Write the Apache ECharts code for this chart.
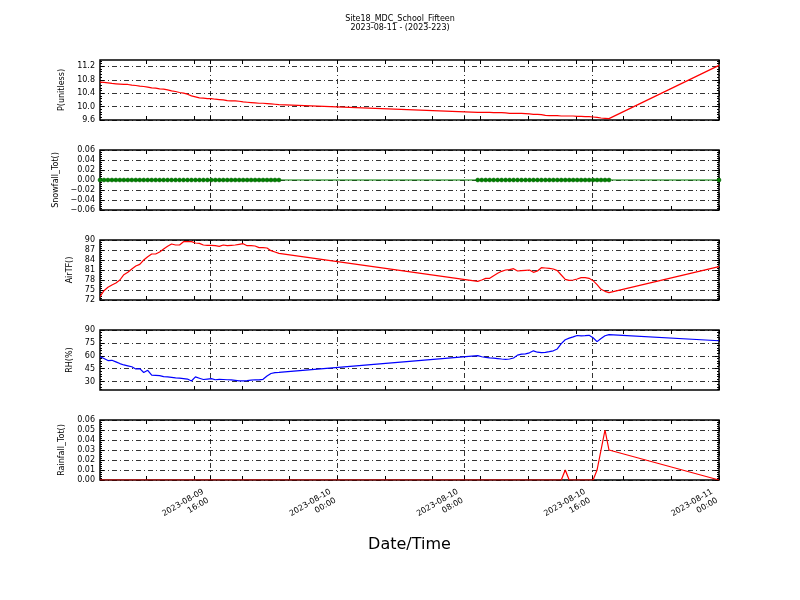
<!DOCTYPE html>
<html><head><meta charset="utf-8">
<script src="https://cdn.jsdelivr.net/npm/echarts@6/dist/echarts.min.js"></script>
<style>html,body{margin:0;padding:0;background:#fff}#c{width:800px;height:600px}</style>
</head><body><div id="c"></div>
<script>
// ---------- text ----------
const titleLines = ['Site18_MDC_School_Fifteen', '2023-08-11 - (2023-223)'];
const xAxisTitle = 'Date/Time';
const panelNames = ['P(unitless)', 'Snowfall_Tot()', 'AirTF()', 'RH(%)', 'Rainfall_Tot()'];

// ---------- sampling times (15-minute records, two logging runs + final record) ----------
const run1Start = '2023-08-09T09:05:00Z';
const run1Count = 46;
const run2Start = '2023-08-10T08:50:00Z';
const run2Count = 34;
const finalTime = '2023-08-11T00:00:00Z';
const stepMinutes = 15;

// ---------- axis ranges / tick labels ----------
const xMin = '2023-08-09T09:05:00Z';
const xMax = '2023-08-11T00:00:00Z';
const xMajorTicks = ['2023-08-09T16:00:00Z', '2023-08-10T00:00:00Z', '2023-08-10T08:00:00Z', '2023-08-10T16:00:00Z', '2023-08-11T00:00:00Z'];
const xMinorTicks = ['2023-08-09T12:00:00Z', '2023-08-09T15:00:00Z', '2023-08-09T18:00:00Z', '2023-08-09T21:00:00Z',
  '2023-08-10T03:00:00Z', '2023-08-10T06:00:00Z', '2023-08-10T09:00:00Z', '2023-08-10T12:00:00Z',
  '2023-08-10T15:00:00Z', '2023-08-10T18:00:00Z', '2023-08-10T21:00:00Z'];

const pTicks = [9.6, 10.0, 10.4, 10.8, 11.2];
const snowTicks = [-0.06, -0.04, -0.02, 0.00, 0.02, 0.04, 0.06];
const airTicks = [72, 75, 78, 81, 84, 87, 90];
const rhTicks = [30, 45, 60, 75, 90];
const rainTicks = [0.00, 0.01, 0.02, 0.03, 0.04, 0.05, 0.06];
const pRange = [9.6, 11.39];
const snowRange = [-0.06, 0.06];
const airRange = [72, 90];
const rhRange = [20.3, 90];
const rainRange = [0, 0.06];

// ---------- values (run 1 | run 2 | final) ----------
const pressure = [
  10.73,10.72,10.71,10.69,10.68,10.67,10.66,10.66,10.64,10.63,10.61,10.60,10.58,10.56,10.55,10.53,
  10.52,10.50,10.47,10.45,10.42,10.40,10.37,10.32,10.29,10.26,10.25,10.24,10.24,10.22,10.21,10.20,
  10.18,10.17,10.17,10.16,10.14,10.13,10.12,10.11,10.10,10.10,10.09,10.08,10.07,10.06,
  9.83,9.83,9.83,9.83,9.82,9.82,9.82,9.81,9.80,9.80,9.80,9.80,9.79,9.78,9.77,9.77,9.76,
  9.74,9.73,9.73,9.73,9.72,9.72,9.72,9.72,9.71,9.71,9.70,9.70,9.69,9.68,9.66,9.65,9.64,
  11.23];
const snowfall = [
  0,0,0,0,0,0,0,0,0,0,0,0,0,0,0,0,0,0,0,0,0,0,0,0,0,0,0,0,0,0,0,0,0,0,0,0,0,0,0,0,0,0,0,0,0,0,
  0,0,0,0,0,0,0,0,0,0,0,0,0,0,0,0,0,0,0,0,0,0,0,0,0,0,0,0,0,0,0,0,0,0,
  0];
const airTF = [
  73.0,74.8,75.8,76.5,77.1,78.0,79.6,80.3,81.3,82.2,82.7,84.0,85.0,85.8,85.8,86.4,
  87.3,88.1,88.8,88.5,88.5,89.5,89.5,89.5,89.1,89.0,88.5,88.4,88.4,88.3,88.1,88.5,
  88.3,88.4,88.5,88.7,88.9,88.3,88.3,88.2,87.7,87.7,87.6,86.8,86.4,86.0,
  77.6,78.0,78.5,78.5,79.3,80.0,80.6,81.0,81.1,81.4,80.7,80.8,80.9,81.0,80.3,80.7,81.7,
  81.6,81.5,81.3,80.8,79.5,78.2,77.9,78.0,78.3,78.7,78.7,78.5,77.8,76.6,75.2,74.6,74.2,
  82.0];
const rh = [
  59.0,56.8,54.5,54.8,53.0,51.0,49.4,48.4,47.3,44.7,45.1,40.6,43.2,37.5,37.3,37.0,
  35.8,35.5,35.0,34.3,34.0,33.5,33.0,30.8,35.5,34.0,32.5,33.0,33.5,32.2,32.7,32.5,
  32.2,32.0,31.5,31.0,30.8,31.2,31.8,32.2,32.0,32.7,36.5,39.5,40.5,40.8,
  60.3,58.9,58.3,57.7,57.3,56.8,56.3,55.9,56.3,57.5,60.8,61.9,62.3,63.5,65.8,64.2,63.8,
  64.1,64.8,65.8,68.0,74.2,78.7,80.5,82.0,83.6,83.2,83.4,83.8,81.0,76.5,80.2,83.3,84.6,
  77.5];
const rainfall = [
  0,0,0,0,0,0,0,0,0,0,0,0,0,0,0,0,0,0,0,0,0,0,0,0,0,0,0,0,0,0,0,0,0,0,0,0,0,0,0,0,0,0,0,0,0,0,
  0,0,0,0,0,0,0,0,0,0,0,0,0,0,0,0,0,0,0,0,0,0,0.01,0,0,0,0,0,0,0,0.01,0.03,0.05,0.03,
  0];

// ---------- build ----------
const stepMs = stepMinutes * 60000;
const times = [];
for (let k = 0; k < run1Count; k++) times.push(Date.parse(run1Start) + k * stepMs);
for (let k = 0; k < run2Count; k++) times.push(Date.parse(run2Start) + k * stepMs);
times.push(Date.parse(finalTime));
const pair = arr => arr.map((v, i) => [times[i], v]);

const FONT = 'DejaVu Sans';
const tops = [60, 150, 240, 330, 420];
const panelH = 60;
const gridDash = [5, 3, 1, 3];
const pad = n => String(n).padStart(2, '0');
const minus = s => s.replace('-', '\u2212');
const fmtTime = v => { const d = new Date(v); return d.getUTCFullYear() + '-' + pad(d.getUTCMonth() + 1) + '-' + pad(d.getUTCDate()) + '\n' + pad(d.getUTCHours()) + ':' + pad(d.getUTCMinutes()); };
// minor y ticks: 5 subdivisions between labelled ticks, extended across the whole range
const minorOf = (ticks, range) => {
  const step = (ticks[1] - ticks[0]) / 5, out = [];
  for (let v = ticks[0] - 10 * step; v <= range[1] + 1e-9; v += step) if (v >= range[0] - 1e-9) out.push(+v.toFixed(6));
  return out;
};

const panels = [
  {data: pressure, color: '#ff0000', ticks: pTicks, range: pRange, dec: 1, gap: 30},
  {data: snowfall, color: '#008000', ticks: snowTicks, range: snowRange, dec: 2, gap: 39, sym: true},
  {data: airTF, color: '#ff0000', ticks: airTicks, range: airRange, dec: 0, gap: 24},
  {data: rh, color: '#0000ff', ticks: rhTicks, range: rhRange, dec: 0, gap: 24},
  {data: rainfall, color: '#ff0000', ticks: rainTicks, range: rainRange, dec: 2, gap: 30}
];

const grid = [], xAxis = [], yAxis = [], series = [];
const xmn = Date.parse(xMin), xmx = Date.parse(xMax);
const majorX = xMajorTicks.map(Date.parse);
const allX = majorX.concat(xMinorTicks.map(Date.parse)).sort((a, b) => a - b);
const tickStyle = {color: '#000', width: 1};

panels.forEach((p, i) => {
  grid.push({left: 100, right: 81, top: tops[i], height: panelH, show: true, borderColor: '#000', borderWidth: 1.5, backgroundColor: 'transparent'});
  const last = i === panels.length - 1;
  xAxis.push({
    type: 'value', gridIndex: i, position: 'bottom', min: xmn, max: xmx, scale: true,
    axisLine: {show: false, onZero: false},
    axisTick: {show: true, inside: true, length: 4, customValues: allX, lineStyle: tickStyle},
    axisLabel: {show: last, customValues: majorX, rotate: 30, fontSize: 8, fontFamily: FONT, color: '#000', margin: 13, lineHeight: 10,
      padding: [0, 5, 0, 0], formatter: v => fmtTime(v)},
    splitLine: {show: false},
    name: last ? xAxisTitle : '', nameLocation: 'middle', nameGap: 57,
    nameTextStyle: {fontSize: 16, fontFamily: FONT, color: '#000'}
  });
  xAxis.push({
    type: 'value', gridIndex: i, position: 'top', min: xmn, max: xmx, scale: true,
    axisLine: {show: false, onZero: false},
    axisTick: {show: true, inside: true, length: 4, customValues: allX, lineStyle: tickStyle},
    axisLabel: {show: false},
    splitLine: {show: false}
  });
  const minors = minorOf(p.ticks, p.range);
  const base = {type: 'value', gridIndex: i, min: p.range[0], max: p.range[1], scale: true};
  const yi = yAxis.length;
  yAxis.push(Object.assign({}, base, {
    position: 'left',
    name: panelNames[i], nameLocation: 'middle', nameRotate: 90, nameGap: p.gap,
    nameTextStyle: {fontSize: 8, fontFamily: FONT, color: '#000'},
    axisLine: {show: false, onZero: false},
    axisTick: {show: true, inside: true, length: 4, customValues: p.ticks, lineStyle: tickStyle},
    axisLabel: {customValues: p.ticks, fontSize: 8, fontFamily: FONT, color: '#000', margin: 5,
      formatter: v => minus(Number(v).toFixed(p.dec))},
    splitLine: {show: true, lineStyle: {color: '#000', width: 0.8, type: gridDash}}
  }));
  yAxis.push(Object.assign({}, base, {
    position: 'right',
    axisLine: {show: false, onZero: false},
    axisTick: {show: true, inside: true, length: 4, customValues: p.ticks, lineStyle: tickStyle},
    axisLabel: {show: false}, splitLine: {show: false}
  }));
  yAxis.push(Object.assign({}, base, {
    position: 'left',
    axisLine: {show: false, onZero: false},
    axisTick: {show: true, inside: true, length: 2, customValues: minors, lineStyle: tickStyle},
    axisLabel: {show: false}, splitLine: {show: false}
  }));
  yAxis.push(Object.assign({}, base, {
    position: 'right',
    axisLine: {show: false, onZero: false},
    axisTick: {show: true, inside: true, length: 2, customValues: minors, lineStyle: tickStyle},
    axisLabel: {show: false}, splitLine: {show: false}
  }));
  series.push({
    type: 'line', xAxisIndex: 2 * i, yAxisIndex: yi, data: pair(p.data),
    lineStyle: {color: p.color, width: 1.2}, itemStyle: {color: p.color, borderColor: '#006000', borderWidth: 0.5},
    showSymbol: !!p.sym, showAllSymbol: true, symbol: 'circle', symbolSize: 4,
    z: 5, silent: true
  });
  series.push({
    type: 'line', xAxisIndex: 2 * i, yAxisIndex: yi, data: [], silent: true,
    markLine: {symbol: 'none', silent: true, label: {show: false},
      lineStyle: {color: '#000', width: 0.8, type: gridDash},
      data: majorX.map(t => ({xAxis: t}))}
  });
});

const chart = echarts.init(document.getElementById('c'), null, {renderer: 'canvas'});
chart.setOption({
  animation: false,
  backgroundColor: '#fff',
  title: {text: titleLines.join('\n'), left: 'center', top: 9,
    textStyle: {fontSize: 8, fontWeight: 'normal', fontFamily: FONT, color: '#000', lineHeight: 9}},
  grid, xAxis, yAxis, series
});
</script></body></html>
